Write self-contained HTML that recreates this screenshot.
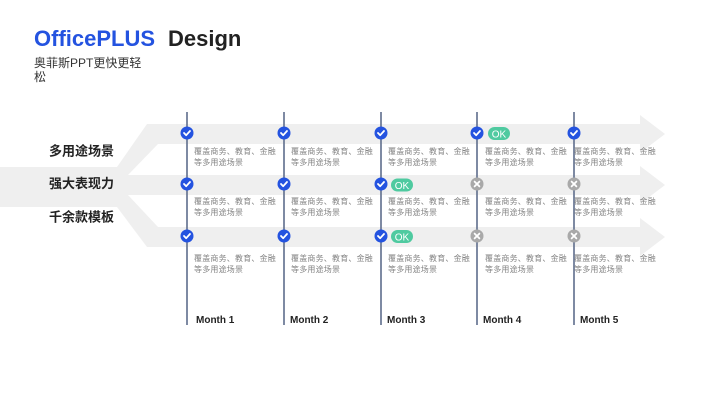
<!DOCTYPE html>
<html><head><meta charset="utf-8"><style>
html,body{margin:0;padding:0;background:#fff;}
svg{display:block;}
text{font-family:"Liberation Sans","Noto Sans CJK SC",sans-serif;}
.d{font-size:8px;fill:#848484;letter-spacing:0.2px;}
.lb{font-size:13px;font-weight:bold;fill:#222;}
.m{font-size:10px;font-weight:bold;fill:#222;}
.ok{font-size:10px;fill:#fff;}
</style></head><body>
<svg width="720" height="405" viewBox="0 0 720 405" xmlns="http://www.w3.org/2000/svg">
<rect width="720" height="405" fill="#fff"/>
<text x="34" y="46" font-size="22" font-weight="bold" fill="#2453e0">OfficePLUS</text>
<text x="168" y="46" font-size="22" font-weight="bold" fill="#222">Design</text>
<text x="34" y="67" font-size="12" fill="#333">奥菲斯PPT更快更轻</text>
<text x="34" y="81" font-size="12" fill="#333">松</text>

<polygon fill="#efefef" points="0,167 117,167 147,124 640,124 640,115 665,134 640,153 640,144 158,144 128,175 640,175 640,166 665,185 640,204 640,195 128,195 158,227 640,227 640,218 665,237 640,256 640,247 147,247 117,207 0,207"/>

<text class="lb" x="49" y="155.5">多用途场景</text>
<text class="lb" x="49" y="188">强大表现力</text>
<text class="lb" x="49" y="221.5">千余款模板</text>

<g stroke="#5e6d8c" stroke-width="1.6">
<line x1="187" y1="112" x2="187" y2="325"/>
<line x1="284" y1="112" x2="284" y2="325"/>
<line x1="381" y1="112" x2="381" y2="325"/>
<line x1="477" y1="112" x2="477" y2="325"/>
<line x1="574" y1="112" x2="574" y2="325"/>
</g>

<defs>
<g id="ck"><circle r="6.5" fill="#2453e0"/><path d="M-3,0 L-0.8,2.2 L3,-2" stroke="#fff" stroke-width="1.8" fill="none" stroke-linecap="round" stroke-linejoin="round"/></g>
<g id="xx"><circle r="6.5" fill="#a9a9a9"/><path d="M-2.4,-2.4 L2.4,2.4 M2.4,-2.4 L-2.4,2.4" stroke="#fff" stroke-width="1.8" stroke-linecap="round"/></g>
</defs>

<use href="#ck" x="187" y="133"/><use href="#ck" x="284" y="133"/><use href="#ck" x="381" y="133"/><use href="#ck" x="477" y="133"/><use href="#ck" x="574" y="133"/>
<use href="#ck" x="187" y="184"/><use href="#ck" x="284" y="184"/><use href="#ck" x="381" y="184"/><use href="#xx" x="477" y="184"/><use href="#xx" x="574" y="184"/>
<use href="#ck" x="187" y="236"/><use href="#ck" x="284" y="236"/><use href="#ck" x="381" y="236"/><use href="#xx" x="477" y="236"/><use href="#xx" x="574" y="236"/>

<rect x="488" y="127" width="22" height="13" rx="6.5" fill="#4fcaa0"/><text class="ok" x="499" y="137.5" text-anchor="middle">OK</text>
<rect x="391" y="178.5" width="22" height="13" rx="6.5" fill="#4fcaa0"/><text class="ok" x="402" y="189" text-anchor="middle">OK</text>
<rect x="391" y="230" width="22" height="13" rx="6.5" fill="#4fcaa0"/><text class="ok" x="402" y="240.5" text-anchor="middle">OK</text>

<g>
<text class="d" x="194" y="154">覆盖商务、教育、金融</text><text class="d" x="194" y="165">等多用途场景</text>
<text class="d" x="291" y="154">覆盖商务、教育、金融</text><text class="d" x="291" y="165">等多用途场景</text>
<text class="d" x="388" y="154">覆盖商务、教育、金融</text><text class="d" x="388" y="165">等多用途场景</text>
<text class="d" x="485" y="154">覆盖商务、教育、金融</text><text class="d" x="485" y="165">等多用途场景</text>
<text class="d" x="574" y="154">覆盖商务、教育、金融</text><text class="d" x="574" y="165">等多用途场景</text>

<text class="d" x="194" y="204">覆盖商务、教育、金融</text><text class="d" x="194" y="215">等多用途场景</text>
<text class="d" x="291" y="204">覆盖商务、教育、金融</text><text class="d" x="291" y="215">等多用途场景</text>
<text class="d" x="388" y="204">覆盖商务、教育、金融</text><text class="d" x="388" y="215">等多用途场景</text>
<text class="d" x="485" y="204">覆盖商务、教育、金融</text><text class="d" x="485" y="215">等多用途场景</text>
<text class="d" x="574" y="204">覆盖商务、教育、金融</text><text class="d" x="574" y="215">等多用途场景</text>

<text class="d" x="194" y="261">覆盖商务、教育、金融</text><text class="d" x="194" y="272">等多用途场景</text>
<text class="d" x="291" y="261">覆盖商务、教育、金融</text><text class="d" x="291" y="272">等多用途场景</text>
<text class="d" x="388" y="261">覆盖商务、教育、金融</text><text class="d" x="388" y="272">等多用途场景</text>
<text class="d" x="485" y="261">覆盖商务、教育、金融</text><text class="d" x="485" y="272">等多用途场景</text>
<text class="d" x="574" y="261">覆盖商务、教育、金融</text><text class="d" x="574" y="272">等多用途场景</text>
</g>

<text class="m" x="196" y="323">Month 1</text>
<text class="m" x="290" y="323">Month 2</text>
<text class="m" x="387" y="323">Month 3</text>
<text class="m" x="483" y="323">Month 4</text>
<text class="m" x="580" y="323">Month 5</text>
</svg>
</body></html>
